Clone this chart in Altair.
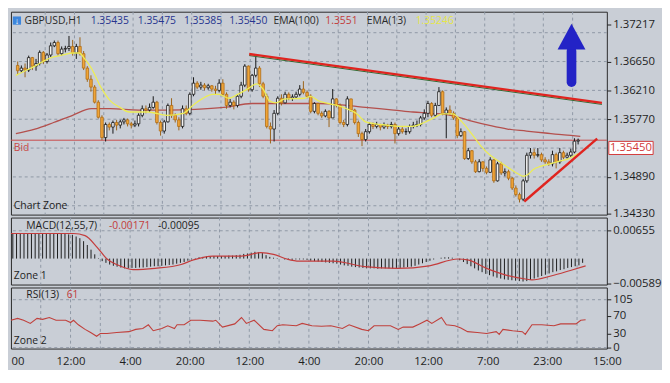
import altair as alt
import pandas as pd

# ----------------------------- data -----------------------------
OPEN_FIRST = 1.3659
CLOSE = [1.3651, 1.3655, 1.3652, 1.3671, 1.3658, 1.3662, 1.3679, 1.3665, 1.3675, 1.3689,
         1.3694, 1.3677, 1.3684, 1.3685, 1.3688, 1.3678, 1.3688, 1.3677, 1.3655, 1.3638,
         1.3626, 1.3603, 1.3580, 1.3549, 1.3569, 1.3565, 1.3572, 1.3568, 1.3573, 1.3576,
         1.3570, 1.3568, 1.3570, 1.3583, 1.3593, 1.3591, 1.3595, 1.3603, 1.3572, 1.3559,
         1.3573, 1.3598, 1.3583, 1.3576, 1.3566, 1.3593, 1.3586, 1.3615, 1.3632, 1.3626,
         1.3629, 1.3625, 1.3628, 1.3623, 1.3621, 1.3632, 1.3615, 1.3598, 1.3603, 1.3598,
         1.3612, 1.3629, 1.3658, 1.3622, 1.3644, 1.3655, 1.3631, 1.3612, 1.3566, 1.3562,
         1.3586, 1.3609, 1.3602, 1.3615, 1.3609, 1.3611, 1.3615, 1.3623, 1.3618, 1.3612,
         1.3589, 1.3601, 1.3586, 1.3582, 1.3589, 1.3579, 1.3608, 1.3598, 1.3572, 1.3569,
         1.3608, 1.3591, 1.3572, 1.3555, 1.3546, 1.3558, 1.3569, 1.3566, 1.3569, 1.3565,
         1.3568, 1.3566, 1.3569, 1.3555, 1.3562, 1.3558, 1.3558, 1.3566, 1.3568, 1.3569,
         1.3579, 1.3586, 1.3601, 1.3583, 1.3598, 1.3619, 1.3586, 1.3591, 1.3586, 1.3579,
         1.3552, 1.3558, 1.3517, 1.3529, 1.3512, 1.3497, 1.3512, 1.3502, 1.3496, 1.3515,
         1.3483, 1.3509, 1.3495, 1.3497, 1.3487, 1.3472, 1.3462, 1.3455, 1.3483, 1.3522,
         1.3526, 1.3522, 1.3523, 1.3515, 1.3512, 1.3509, 1.3523, 1.3512, 1.3526, 1.3519,
         1.3522, 1.3527, 1.35435, 1.35450]
HIGH = [1.3665, 1.3659, 1.3662, 1.3674, 1.3672, 1.3669, 1.3682, 1.3681, 1.3678, 1.3694,
        1.3697, 1.3697, 1.3688, 1.3689, 1.3704, 1.3698, 1.3692, 1.3702, 1.3681, 1.3658,
        1.3644, 1.3629, 1.3606, 1.3583, 1.3572, 1.3572, 1.3575, 1.3576, 1.3576, 1.3579,
        1.3578, 1.3573, 1.3575, 1.3586, 1.3598, 1.3598, 1.3601, 1.3612, 1.3605, 1.3575,
        1.3576, 1.3601, 1.3609, 1.3586, 1.3580, 1.3598, 1.3598, 1.3618, 1.3641, 1.3635,
        1.3634, 1.3632, 1.3631, 1.3629, 1.3628, 1.3638, 1.3638, 1.3618, 1.3608, 1.3606,
        1.3615, 1.3634, 1.3661, 1.3659, 1.3646, 1.3672, 1.3658, 1.3634, 1.3616, 1.3572,
        1.3591, 1.3612, 1.3615, 1.3619, 1.3618, 1.3615, 1.3619, 1.3629, 1.3635, 1.3621,
        1.3615, 1.3603, 1.3602, 1.3589, 1.3592, 1.3591, 1.3623, 1.3609, 1.3601, 1.3576,
        1.3612, 1.3608, 1.3593, 1.3575, 1.3558, 1.3562, 1.3572, 1.3572, 1.3573, 1.3570,
        1.3572, 1.3570, 1.3573, 1.3572, 1.3566, 1.3565, 1.3563, 1.3569, 1.3573, 1.3575,
        1.3582, 1.3592, 1.3605, 1.3603, 1.3602, 1.3626, 1.3621, 1.3595, 1.3598, 1.3589,
        1.3580, 1.3563, 1.3559, 1.3533, 1.3530, 1.3515, 1.3516, 1.3513, 1.3505, 1.3519,
        1.3516, 1.3512, 1.3512, 1.3502, 1.3500, 1.3489, 1.3476, 1.3465, 1.3486, 1.3526,
        1.3533, 1.3532, 1.3533, 1.3526, 1.3519, 1.3516, 1.3529, 1.3526, 1.3533, 1.3529,
        1.3526, 1.3532, 1.3548, 1.35475]
LOW = [1.3646, 1.3648, 1.3641, 1.3649, 1.3652, 1.3651, 1.3659, 1.3661, 1.3662, 1.3672,
       1.3687, 1.3674, 1.3674, 1.3679, 1.3681, 1.3674, 1.3669, 1.3674, 1.3652, 1.3634,
       1.3619, 1.3601, 1.3578, 1.3545, 1.3543, 1.3560, 1.3555, 1.3560, 1.3563, 1.3569,
       1.3566, 1.3563, 1.3565, 1.3566, 1.3580, 1.3586, 1.3588, 1.3593, 1.3569, 1.3552,
       1.3555, 1.3572, 1.3579, 1.3572, 1.3560, 1.3563, 1.3583, 1.3583, 1.3612, 1.3623,
       1.3622, 1.3621, 1.3622, 1.3619, 1.3615, 1.3618, 1.3612, 1.3593, 1.3595, 1.3592,
       1.3595, 1.3609, 1.3626, 1.3619, 1.3619, 1.3641, 1.3626, 1.3609, 1.3563, 1.3540,
       1.3543, 1.3583, 1.3598, 1.3601, 1.3606, 1.3605, 1.3608, 1.3612, 1.3615, 1.3609,
       1.3586, 1.3586, 1.3583, 1.3579, 1.3580, 1.3565, 1.3579, 1.3595, 1.3569, 1.3565,
       1.3566, 1.3588, 1.3569, 1.3550, 1.3536, 1.3543, 1.3555, 1.3562, 1.3563, 1.3560,
       1.3562, 1.3562, 1.3563, 1.3540, 1.3552, 1.3555, 1.3553, 1.3555, 1.3563, 1.3565,
       1.3566, 1.3576, 1.3580, 1.3580, 1.3580, 1.3598, 1.3583, 1.3548, 1.3583, 1.3576,
       1.3548, 1.3550, 1.3515, 1.3515, 1.3509, 1.3495, 1.3496, 1.3497, 1.3493, 1.3495,
       1.3480, 1.3482, 1.3492, 1.3490, 1.3484, 1.3469, 1.3459, 1.3450, 1.3452, 1.3480,
       1.3517, 1.3517, 1.3519, 1.3512, 1.3509, 1.3506, 1.3505, 1.3502, 1.3509, 1.3516,
       1.3517, 1.3519, 1.3525, 1.35385]

# EMA(13): positions in bar units, values in price
EMA13_T = [0, 2.6, 5.2, 7.7, 10.3, 12.9, 15.5, 17.3, 18.8, 20.6,
           23.2, 25.8, 28.4, 31.0, 36.1, 41.3, 45.7, 48.3, 50.8, 53.7,
           55.5, 58.1, 60.6, 63.2, 65.8, 67.6, 69.2, 71.0, 73.5, 78.7,
           80.5, 82.6, 85.2, 87.7, 90.3, 92.9, 95.5, 98.1, 101.2, 104.5,
           107.9, 111.5, 114.1, 116.6, 119.2, 121.8, 124.4, 127.0, 129.5, 132.1,
           134.7, 137.3, 138.6, 139.9, 141.2, 143.2, 145.8, 148.4, 151.0, 153.5]
EMA13_V = [1.3644, 1.3651, 1.3658, 1.3666, 1.3672, 1.3675, 1.3678, 1.3678, 1.3669, 1.3655,
           1.3626, 1.3605, 1.3595, 1.3588, 1.3588, 1.3583, 1.3586, 1.3598, 1.3608, 1.3615,
           1.3615, 1.3609, 1.3615, 1.3623, 1.3631, 1.3622, 1.3605, 1.3602, 1.3608, 1.3609,
           1.3612, 1.3605, 1.3601, 1.3598, 1.3593, 1.3586, 1.3573, 1.3570, 1.3568, 1.3566,
           1.3566, 1.3572, 1.3579, 1.3585, 1.3585, 1.3573, 1.3555, 1.3536, 1.3522, 1.3512,
           1.3502, 1.3493, 1.3490, 1.3493, 1.3500, 1.3505, 1.3509, 1.3513, 1.3517, 1.35246]

# EMA(100)
EMA100_T = [0, 5.2, 10.3, 15.5, 20.6, 25.8, 33.5, 41.3, 49.0, 56.8, 64.5, 72.3, 82.6,
            90.3, 95.5, 103.2, 108.4, 113.5, 118.7, 123.9, 129.0, 134.2, 139.4, 144.5, 149.7, 154.1]
EMA100_V = [1.3555, 1.3562, 1.3572, 1.3583, 1.3593, 1.3593, 1.3591, 1.3591, 1.3592, 1.3595,
            1.3601, 1.3601, 1.3601, 1.3598, 1.3595, 1.3591, 1.3588, 1.3586, 1.3583, 1.3575,
            1.3568, 1.3562, 1.3559, 1.3556, 1.3553, 1.3551]

# MACD(12,55,7) histogram, one value per bar
MACD_HIST = [0.0058, 0.0059, 0.0059, 0.0058, 0.0059, 0.0059, 0.0058, 0.0059, 0.0059, 0.0058,
             0.0059, 0.0059, 0.0058, 0.0059, 0.0058, 0.0057, 0.0056,
             0.0052, 0.0048, 0.0041, 0.0032, 0.0021, 0.0010, 0.0001,
             -0.0006, -0.0010, -0.0014, -0.0017, -0.0019, -0.0021, -0.0023,
             -0.0023, -0.0022, -0.0022, -0.0021, -0.0021, -0.0020,
             -0.0019, -0.0018, -0.0018, -0.0017,
             -0.0016, -0.0015, -0.0014, -0.0012, -0.0010,
             -0.0008, -0.0005, -0.0002,
             0.0001, 0.0003, 0.0004, 0.0005, 0.0005,
             0.0006, 0.0006, 0.0006, 0.0006, 0.0007, 0.0007, 0.0008,
             0.0009, 0.0011, 0.0012, 0.0014, 0.0016, 0.0015, 0.0013,
             0.0008, 0.0004, 0.0002, 0.0001, 0.0000,
             -0.0002, -0.0003, -0.0003, -0.0002, -0.0002, -0.0002, -0.0003, -0.0005, -0.0006,
             -0.0007, -0.0008, -0.0009, -0.0010,
             -0.0011, -0.0012, -0.0014, -0.0016, -0.0017, -0.0019, -0.0020, -0.0021, -0.0022,
             -0.0023, -0.0023, -0.0023, -0.0024, -0.0023, -0.0023, -0.0023, -0.0023, -0.0022,
             -0.0022, -0.0021, -0.0020, -0.0019, -0.0017,
             -0.0014, -0.0011, -0.0008, -0.0005, -0.0002, 0.0000,
             0.0002, 0.0003, 0.0003, 0.0002,
             0.0000, -0.0004, -0.0008, -0.0013, -0.0018,
             -0.0023, -0.0028, -0.0032, -0.0036, -0.0039, -0.0042, -0.0045,
             -0.0047, -0.0049, -0.0050, -0.0051, -0.0052, -0.0053, -0.0054, -0.0053,
             -0.0050, -0.0047, -0.0044, -0.0041, -0.0038, -0.0035, -0.0032, -0.0030, -0.0027,
             -0.0025, -0.0022, -0.0020, -0.0018, -0.0016, -0.0010]
MACD_SIG_T = [0, 16.8, 19.9, 23.2, 25.8, 28.4, 32.8, 38.7, 45.7, 49.0,
              54.2, 61.9, 67.1, 70.5, 74.1, 77.4, 86.5, 95.0, 103.7, 112.3,
              120.0, 122.6, 127.7, 132.9, 138.1, 139.9, 145.0, 150.2, 154.3]
MACD_SIG_V = [0.0059, 0.0059, 0.0054, 0.0026, -0.0001, -0.0014, -0.0026, -0.0023, -0.0014, -0.0003,
              0.0006, 0.0006, 0.0014, 0.0010, -0.0001, -0.0006, -0.0006, -0.0019, -0.0023, -0.0017,
              -0.0001, -0.0003, -0.0023, -0.0039, -0.0048, -0.0050, -0.0041, -0.0028, -0.00171]

# RSI(13)
RSI_T = [0, 1.8, 3.4, 5.2, 7.0, 8.5, 10.3, 12.1, 14.7, 16.0,
         16.8, 18.1, 19.9, 21.4, 23.0, 24.0, 25.8, 28.4, 31.7, 33.5,
         35.4, 36.9, 38.2, 40.5, 42.1, 43.9, 44.6, 46.5, 48.3, 50.8,
         54.2, 55.0, 56.8, 60.1, 61.9, 63.2, 65.3, 67.9, 70.2, 71.5,
         73.0, 76.6, 78.2, 80.8, 83.4, 85.9, 89.0, 90.8, 94.2, 96.0,
         97.5, 101.9, 104.0, 105.3, 107.9, 109.7, 111.7, 113.0, 115.6, 116.9,
         119.2, 120.8, 122.6, 125.2, 127.7, 130.3, 131.1, 132.1, 134.7, 137.3,
         138.1, 139.9, 142.5, 145.8, 147.6, 151.7, 153.0, 154.3]
RSI_V = [60, 64, 60, 53, 64, 62, 66, 60, 60, 55,
         60, 50, 40, 33, 25, 31, 31, 33, 35, 40,
         42, 50, 37, 42, 48, 42, 50, 50, 60, 60,
         58, 60, 45, 52, 66, 53, 60, 40, 37, 48,
         50, 48, 53, 48, 47, 48, 42, 50, 40, 37,
         48, 48, 40, 45, 45, 52, 60, 53, 66, 50,
         48, 43, 35, 33, 31, 35, 29, 40, 37, 35,
         29, 50, 50, 48, 52, 52, 60, 61]

BID = 1.35450
PRICE_TICKS = [1.37217, 1.36650, 1.36210, 1.35770, 1.34890, 1.34330]
PRICE_GRID = [1.37090, 1.36650, 1.36210, 1.35770, 1.35330, 1.34890, 1.34450]
MACD_TICKS = [0.00655, -0.00589]
RSI_TICKS = [105, 70, 30, 0]
TIME_TICKS = [0, 16, 32, 48, 64, 80, 96, 112, 128, 144, 160]
TIME_LABELS = ["00", "12:00", "4:00", "20:00", "12:00", "4:00", "20:00", "12:00", "7:00", "23:00", "15:00"]
VGRID = [8, 16, 24, 32, 40, 48, 56, 64, 72, 80, 88, 96, 104, 112, 120, 128, 136, 144, 152]

TREND_UPPER_T, TREND_UPPER_P = [63.7, 160.0], [1.36765, 1.36020]
TREND_LOWER_T, TREND_LOWER_P = [138.8, 158.7], [1.34515, 1.35475]
ARROW_T = 151.7
ARROW_SHAFT_P = [1.36810, 1.36335]
ARROW_HEAD_P = 1.37030

HEADER = [("GBPUSD,H1", "ink"), ("1.35435", "num"), ("1.35475", "num"), ("1.35385", "num"),
          ("1.35450", "num"), ("EMA(100)", "ink"), ("1.3551", "red"), ("EMA(13)", "ink"),
          ("1.35246", "yel")]

# ----------------------------- layout / style -----------------------------
SX, SY = 0.976, 0.953
W = 605
H_MAIN, H_MACD, H_RSI = 206, 68, 62
FONT = "Open Sans"
BG = "#c9ced6"
GRID_C = "#8f98a6"
INK = "#1e1e1e"
COLORS = {"ink": "#2a2a2a", "num": "#27358f", "red": "#c33b3b", "yel": "#e6e64a"}
HEADER_X = [14, 83, 132, 180, 227, 273, 327, 370, 421]

xs = alt.Scale(domain=[0, 160], nice=False, zero=False)
ys_main = alt.Scale(domain=[1.34315, 1.37410], nice=False, zero=False)
ys_macd = alt.Scale(domain=[-0.00611, 0.00966], nice=False, zero=False)
ys_rsi = alt.Scale(domain=[-2, 131.7], nice=False, zero=False)


def right_axis(values, fmt):
    return alt.Axis(orient="right", values=values, format=fmt, title=None, grid=False,
                    domain=False, ticks=True, tickSize=4, tickColor="#222", labelPadding=2,
                    labelFont=FONT, labelFontSize=11.5, labelColor=INK)


AX_MAIN = right_axis(PRICE_TICKS, ".5f")
AX_MACD = right_axis(MACD_TICKS, ".5f")
AX_RSI = right_axis(RSI_TICKS, "d")


def X(field="t"):
    return alt.X(f"{field}:Q", scale=xs, axis=None)


def label(text, x, y, color, size=10.5, align="left"):
    return alt.Chart(pd.DataFrame({"s": [text]})).mark_text(
        align=align, baseline="middle", font=FONT, fontSize=size, color=color
    ).encode(text="s:N", x=alt.value(x), y=alt.value(y))


def vgrid():
    return alt.Chart(pd.DataFrame({"t": VGRID})).mark_rule(
        color=GRID_C, strokeDash=[3, 3], strokeWidth=1).encode(x=X())


# ----------------------------- main panel -----------------------------
n = len(CLOSE)
opens = [OPEN_FIRST] + CLOSE[:-1]
candles = pd.DataFrame({
    "t": [i + 0.5 for i in range(n)],
    "open": opens,
    "close": CLOSE,
    "high": [max(h, o, c) for h, o, c in zip(HIGH, opens, CLOSE)],
    "low": [min(l, o, c) for l, o, c in zip(LOW, opens, CLOSE)],
    "dir": ["up" if c >= o else "down" for o, c in zip(opens, CLOSE)],
})

YM = lambda f: alt.Y(f"{f}:Q", scale=ys_main, axis=AX_MAIN)

hgrid_main = alt.Chart(pd.DataFrame({"p": PRICE_GRID})).mark_rule(
    color=GRID_C, strokeDash=[3, 3], strokeWidth=1).encode(y=YM("p"))

ema100 = alt.Chart(pd.DataFrame({"t": EMA100_T, "p": EMA100_V})).mark_line(
    color="#b4504d", strokeWidth=1.3, interpolate="monotone").encode(x=X(), y=YM("p"))

bid = alt.Chart(pd.DataFrame({"p": [BID]})).mark_rule(
    color="#c84848", strokeWidth=1).encode(y=YM("p"))

wicks = alt.Chart(candles).mark_rule(strokeWidth=1).encode(
    x=X(), y=YM("low"), y2="high:Q",
    color=alt.Color("dir:N", scale=alt.Scale(domain=["up", "down"], range=["#161616", "#9a6318"]),
                    legend=None))

bodies = alt.Chart(candles).mark_bar(width=2.6, strokeWidth=0.8).encode(
    x=X(), y=YM("open"), y2="close:Q",
    fill=alt.Fill("dir:N", scale=alt.Scale(domain=["up", "down"], range=["#f3f3f3", "#f0a537"]),
                  legend=None),
    stroke=alt.Stroke("dir:N", scale=alt.Scale(domain=["up", "down"], range=["#161616", "#b06c16"]),
                      legend=None))

ema13 = alt.Chart(pd.DataFrame({"t": EMA13_T, "p": EMA13_V})).mark_line(
    color="#eded55", strokeWidth=1.3, interpolate="monotone").encode(x=X(), y=YM("p"))

trend_shadow = alt.Chart(pd.DataFrame({"t": TREND_UPPER_T, "p": TREND_UPPER_P})).mark_line(
    color="#2f6a2f", strokeWidth=1, yOffset=1.6).encode(x=X(), y=YM("p"))
trend_up = alt.Chart(pd.DataFrame({"t": TREND_UPPER_T, "p": TREND_UPPER_P})).mark_line(
    color="#e0241f", strokeWidth=2.4).encode(x=X(), y=YM("p"))
trend_lo = alt.Chart(pd.DataFrame({"t": TREND_LOWER_T, "p": TREND_LOWER_P})).mark_line(
    color="#e0241f", strokeWidth=2.4).encode(x=X(), y=YM("p"))

shaft = alt.Chart(pd.DataFrame({"t": [ARROW_T], "p": [ARROW_SHAFT_P[0]], "p2": [ARROW_SHAFT_P[1]]})).mark_rule(
    color="#2323c6", strokeWidth=9.8, strokeCap="round").encode(x=X(), y=YM("p"), y2="p2:Q")
head = alt.Chart(pd.DataFrame({"t": [ARROW_T], "p": [ARROW_HEAD_P]})).mark_point(
    shape="M0,-0.92L1,0.92L-1,0.92Z", size=800, filled=True, opacity=1,
    color="#2323c6").encode(x=X(), y=YM("p"))

price_box = alt.Chart(pd.DataFrame({"p": [1.35432], "p2": [1.35232]})).mark_rect(
    fill="#ffffff", stroke="#d23a3a", strokeWidth=1).encode(
    x=alt.value(W + 2), x2=alt.value(W + 47), y=YM("p"), y2="p2:Q")
price_txt = alt.Chart(pd.DataFrame({"p": [1.35332], "s": ["1.35450"]})).mark_text(
    align="center", baseline="middle", font=FONT, fontSize=11.5, color="#d23a3a").encode(
    x=alt.value(W + 24.5), y=YM("p"), text="s:N")

main_layers = [hgrid_main, vgrid(), ema100, bid, wicks, bodies, ema13,
               trend_shadow, trend_up, trend_lo, shaft, head, price_box, price_txt]

# header line
main_layers.append(alt.Chart(pd.DataFrame({"a": [0]})).mark_square(
    size=70, color="#3d86dc", opacity=1).encode(x=alt.value(6.2 * SX), y=alt.value(9.0)))
main_layers.append(label("\u2193", 6.2 * SX, 9.0, "#ffffff", size=9, align="center"))
for (txt, ck), hx in zip(HEADER, HEADER_X):
    main_layers.append(label(txt, hx * SX, 9.5, COLORS[ck]))
main_layers.append(label("Bid", 3 * SX, 145 * SY, "#c84848"))
main_layers.append(label("Chart Zone", 3 * SX, 207 * SY, INK))

main = alt.layer(*main_layers).properties(width=W, height=H_MAIN)

# ----------------------------- MACD panel -----------------------------
YD = lambda f: alt.Y(f"{f}:Q", scale=ys_macd, axis=AX_MACD)
macd_df = pd.DataFrame({"t": [i + 0.5 for i in range(len(MACD_HIST))], "h": MACD_HIST})

macd_layers = [
    alt.Chart(pd.DataFrame({"p": [MACD_TICKS[0]]})).mark_rule(
        color=GRID_C, strokeDash=[3, 3], strokeWidth=1).encode(y=YD("p")),
    vgrid(),
    alt.Chart(macd_df).mark_rule(color="#1c1c1c", strokeWidth=1).encode(
        x=X(), y=YD("h"), y2=alt.datum(0)),
    alt.Chart(pd.DataFrame({"t": MACD_SIG_T, "p": MACD_SIG_V})).mark_line(
        color="#c43c3c", strokeWidth=1.2, interpolate="monotone").encode(x=X(), y=YD("p")),
    label("MACD(12,55,7)", 16 * SX, 9 * SY, INK),
    label("-0.00171", 102 * SX, 9 * SY, "#c33b3b"),
    label("-0.00095", 153 * SX, 9 * SY, INK),
    label("Zone 1", 3 * SX, 62 * SY, INK),
]
macd = alt.layer(*macd_layers).properties(width=W, height=H_MACD)

# ----------------------------- RSI panel -----------------------------
YR = lambda f: alt.Y(f"{f}:Q", scale=ys_rsi, axis=AX_RSI)
label_expr = "[" + ",".join(f"'{s}'" for s in TIME_LABELS) + "][round(datum.value / 16)]"
x_axis = alt.Axis(values=TIME_TICKS, labelExpr=label_expr, labelFlush=False, ticks=False,
                  domain=False, grid=False, labelPadding=7, title=None, labelFont=FONT,
                  labelFontSize=11.5, labelColor=INK,
                  labelAlign={"condition": {"test": "datum.value == 0", "value": "left"},
                              "value": "center"})

rsi_layers = [
    alt.Chart(pd.DataFrame({"v": [105, 0]})).mark_rule(
        color=GRID_C, strokeDash=[3, 3], strokeWidth=1).encode(y=YR("v")),
    alt.Chart(pd.DataFrame({"t": VGRID})).mark_rule(
        color=GRID_C, strokeDash=[3, 3], strokeWidth=1).encode(
        x=alt.X("t:Q", scale=xs, axis=x_axis)),
    alt.Chart(pd.DataFrame({"t": RSI_T, "v": RSI_V})).mark_line(
        color="#c0403c", strokeWidth=1.1).encode(x=alt.X("t:Q", scale=xs, axis=x_axis), y=YR("v")),
    label("RSI(13)", 16 * SX, 8 * SY, INK),
    label("61", 58 * SX, 8 * SY, "#c33b3b"),
    label("Zone 2", 3 * SX, 57 * SY, INK),
]
rsi = alt.layer(*rsi_layers).properties(width=W, height=H_RSI)

chart = alt.vconcat(main, macd, rsi, spacing=3, bounds="flush").properties(
    background=BG, padding=0
).configure_view(stroke="#2b2b2b", strokeWidth=1)

chart.save("out.html", embed_options={"renderer": "svg", "actions": False})
